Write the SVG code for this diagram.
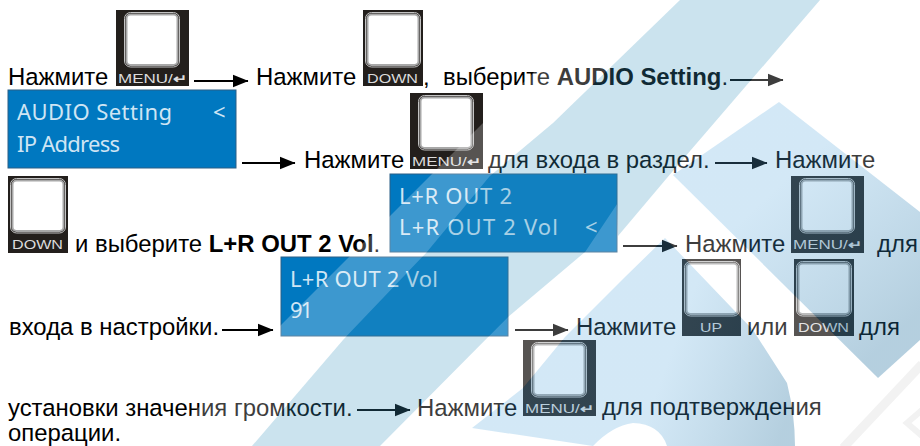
<svg xmlns="http://www.w3.org/2000/svg" width="920" height="446" viewBox="0 0 920 446">
<style>
text{font-family:"Liberation Sans",Arial,sans-serif;font-size:23.9px;fill:#000}
.b{font-weight:700}
.body{fill:#231f1c}
text.lbl{font-size:12px;fill:#dcdcdc}
.ar{font-weight:700}
.lcd{fill:#0078c0;stroke:#2b5f86;stroke-width:1}
text.lt{font-family:"Noto Sans","Open Sans",sans-serif;font-size:22px;fill:#cfe5f4}
.con{stroke:#000;stroke-width:2;fill:none;marker-end:url(#ah)}
</style>
<defs>
<marker id="ah" markerUnits="userSpaceOnUse" markerWidth="16" markerHeight="14" refX="15.500" refY="7" orient="auto"><path d="M0,0.500L16,7L0,13.500Z" fill="#000"/></marker>
<g id="face"><rect x="0.500" y="0.500" width="55" height="54.500" rx="6" fill="#231f1c" stroke="#c4c4c4" stroke-width="1"/><rect x="2.500" y="2.500" width="51" height="50.500" rx="4" fill="#fff" stroke="#a8a8a8" stroke-width="2"/></g>
<linearGradient id="g2" gradientUnits="userSpaceOnUse" x1="720" y1="130" x2="900" y2="330"><stop offset="0.3" stop-color="#5caade" stop-opacity=".27"/><stop offset="1" stop-color="#1e6e9e" stop-opacity=".33"/></linearGradient>
<linearGradient id="g3" gradientUnits="userSpaceOnUse" x1="600" y1="340" x2="790" y2="410"><stop offset="0.35" stop-color="#5caade" stop-opacity=".27"/><stop offset="1" stop-color="#1e6e9e" stop-opacity=".33"/></linearGradient>
</defs>
<rect width="920" height="446" fill="#fff"/>
<g id="faint-mark" fill="none" stroke="#eeeeee"><path d="M922,364L843,448" stroke-width="9"/><path d="M922,410L907,423L922,436" stroke-width="6"/></g>

<g id="t1"><text x="8" y="85">Нажмите</text></g>
<g id="btn-menu-1" transform="translate(116,10)"><rect class="body" width="73" height="76"/><use href="#face" x="8" y="2"/><text class="lbl" x="2" y="73" textLength="69" lengthAdjust="spacingAndGlyphs">MENU/<tspan class="ar">↵</tspan></text></g>
<g id="t2"><text x="256" y="85">Нажмите</text></g>
<g id="btn-down-1" transform="translate(363,10)"><rect class="body" width="60" height="76"/><use href="#face" x="2" y="2"/><text class="lbl" x="4" y="73" textLength="51" lengthAdjust="spacingAndGlyphs">DOWN</text></g>
<g id="t3"><text x="423" y="85">,</text><text x="443" y="85">выберите <tspan class="b">AUDIO Setting</tspan>.</text></g>

<g id="lcd-audio"><rect class="lcd" x="8" y="90" width="228" height="78"/><text class="lt" x="17" y="120" textLength="155">AUDIO Setting</text><text class="lt" x="213" y="120">&lt;</text><text class="lt" x="17" y="152" textLength="103">IP Address</text></g>
<g id="t4"><text x="304" y="168">Нажмите</text></g>
<g id="btn-menu-2" transform="translate(410,93)"><rect class="body" width="73" height="76"/><use href="#face" x="8" y="2"/><text class="lbl" x="2" y="73" textLength="69" lengthAdjust="spacingAndGlyphs">MENU/<tspan class="ar">↵</tspan></text></g>
<g id="t5"><text x="488" y="168">для входа в раздел.</text><text x="775" y="168">Нажмите</text></g>

<g id="btn-down-2" transform="translate(8,176)"><rect class="body" width="60" height="77"/><use href="#face" x="2" y="2"/><text class="lbl" x="4" y="73" textLength="51" lengthAdjust="spacingAndGlyphs">DOWN</text></g>
<g id="t6"><text x="75" y="252">и выберите <tspan class="b">L+R OUT 2 Vol</tspan>.</text></g>
<g id="lcd-out"><rect class="lcd" x="390" y="174" width="227" height="78"/><text class="lt" x="399" y="204" textLength="113">L+R OUT 2</text><text class="lt" x="399" y="235" textLength="159">L+R OUT 2 Vol</text><text class="lt" x="585" y="235">&lt;</text></g>
<g id="t7"><text x="685" y="252">Нажмите</text><text x="877" y="252">для</text></g>
<g id="btn-menu-3" transform="translate(791,176)"><rect class="body" width="73" height="77"/><use href="#face" x="8" y="2"/><text class="lbl" x="2" y="73" textLength="69" lengthAdjust="spacingAndGlyphs">MENU/<tspan class="ar">↵</tspan></text></g>

<g id="t8"><text x="9" y="335">входа в настройки.</text></g>
<g id="lcd-vol"><rect class="lcd" x="281" y="257" width="227" height="79"/><text class="lt" x="290" y="287" textLength="148">L+R OUT 2 Vol</text><text class="lt" x="290" y="318" textLength="23">91</text></g>
<g id="t9"><text x="576" y="335">Нажмите</text><text x="747" y="335">или</text><text x="859" y="335">для</text></g>
<g id="btn-up" transform="translate(682,259)"><rect class="body" width="59" height="77"/><use href="#face" x="2" y="2"/><text class="lbl" x="18" y="73" textLength="22" lengthAdjust="spacingAndGlyphs">UP</text></g>
<g id="btn-down-3" transform="translate(794,259)"><rect class="body" width="60" height="77"/><use href="#face" x="2" y="2"/><text class="lbl" x="4" y="73" textLength="51" lengthAdjust="spacingAndGlyphs">DOWN</text></g>

<g id="t10"><text x="8" y="416">установки значения громкости.</text><text x="417" y="416">Нажмите</text><text x="602" y="415">для подтверждения</text><text x="8" y="441">операции.</text></g>
<g id="btn-menu-4" transform="translate(523,340)"><rect class="body" width="73" height="76"/><use href="#face" x="8" y="2"/><text class="lbl" x="2" y="73" textLength="69" lengthAdjust="spacingAndGlyphs">MENU/<tspan class="ar">↵</tspan></text></g>

<g id="connectors">
<path class="con" d="M194,81H248"/>
<path class="con" d="M730,80H783"/>
<path class="con" d="M242,163H295"/>
<path class="con" d="M715,163H767"/>
<path class="con" d="M623,246H677"/>
<path class="con" d="M222,330H273"/>
<path class="con" d="M515,330H568"/>
<path class="con" d="M357,410H410"/>
</g>

<g id="watermark">
<path fill="#fff" fill-opacity=".24" fill-rule="evenodd" d="M606,0H920V446H160Z M680,0L553,123L490,176L427,252L343,340L252,446H380L508,317L585,252L617,204L618,236L672,172L820,0Z M779,102L920,212V340L878,378L673,175Z M665,238L625,277L565,337L523,388L472,428L593,446Q612,426 633,423Q660,424 667,446H795Q795,415 787,383L753,330Z"/>
<path fill="#3e97c0" fill-opacity=".27" d="M680,0L553,123L490,176L427,252L343,340L252,446H380L508,317L585,252L617,204L618,236L672,172L820,0Z"/>
<path fill="url(#g2)" d="M779,102L920,212V340L878,378L673,175Z"/>
<path fill="url(#g3)" d="M665,238L625,277L565,337L523,388L472,428L593,446Q612,426 633,423Q660,424 667,446H795Q795,415 787,383L753,330Z"/>
</g>
</svg>
